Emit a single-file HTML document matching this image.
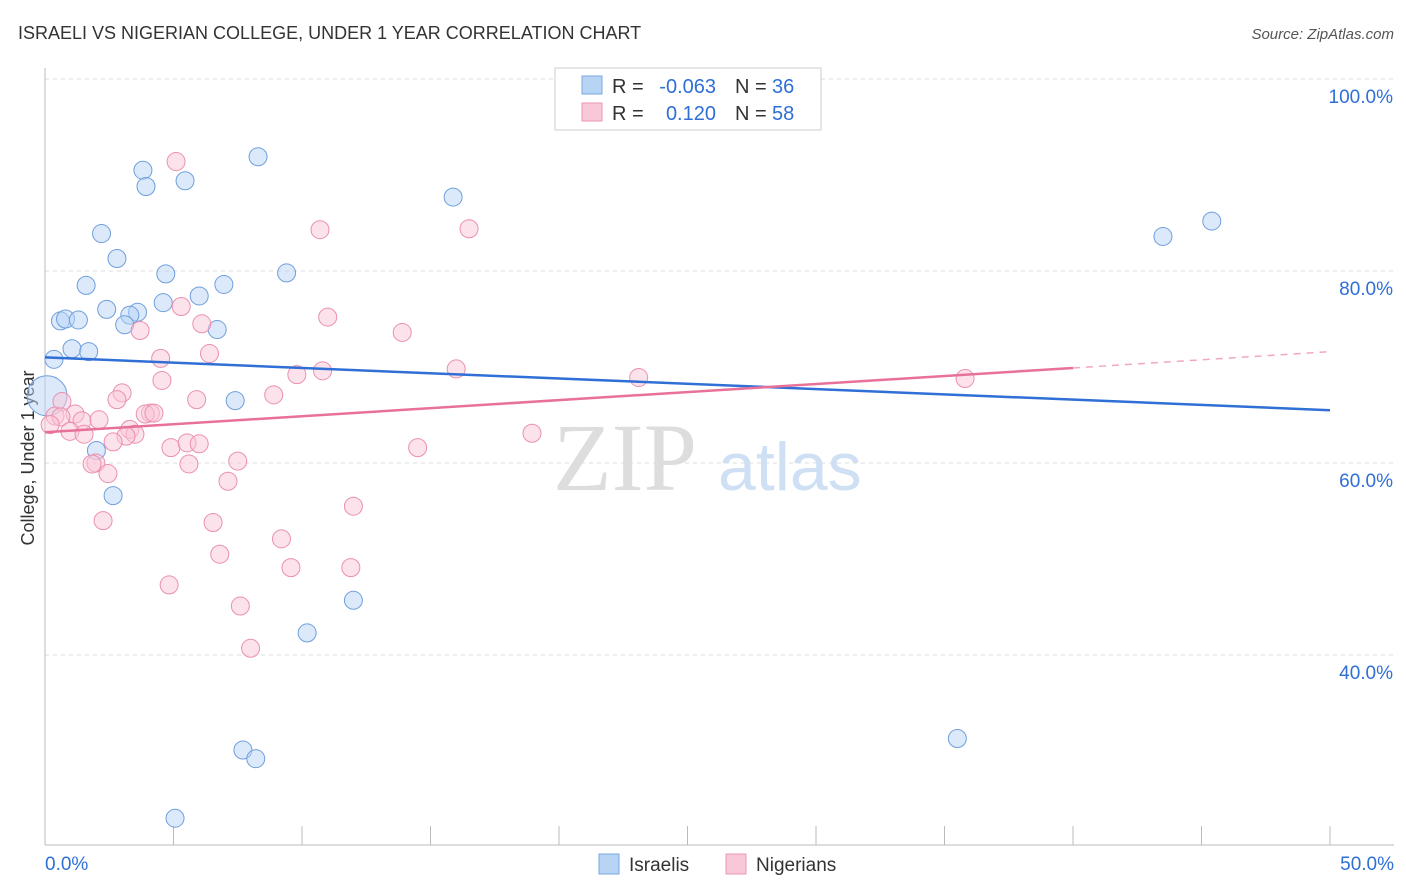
<!DOCTYPE html>
<html><head><meta charset="utf-8"><style>
body{margin:0;background:#fff;font-family:"Liberation Sans",sans-serif;}
svg{display:block}
</style></head><body>
<svg id="chart" width="1406" height="892">
<text x="18" y="39" font-size="18" fill="#333">ISRAELI VS NIGERIAN COLLEGE, UNDER 1 YEAR CORRELATION CHART</text>
<text x="1394" y="39" font-size="15" fill="#555" font-style="italic" text-anchor="end">Source: ZipAtlas.com</text>
<text x="34" y="458" font-size="18" fill="#333" text-anchor="middle" transform="rotate(-90 34 458)">College, Under 1 year</text>
<g id="grid"></g>
<text x="553" y="490" font-size="96" fill="#ddd" font-family="Liberation Serif,serif">ZIP</text>
<text x="718" y="490" font-size="68" fill="#cfe0f5">atlas</text>
<g id="marks"></g>
<g>
<rect x="555" y="68" width="266" height="62" fill="#fff" stroke="#ccc"/>
<rect x="582" y="76" width="20" height="18" fill="#b8d4f5" stroke="#7aa8e0"/>
<rect x="582" y="103" width="20" height="18" fill="#f9c8d8" stroke="#eb96b4"/>
<text x="612" y="93" font-size="20" fill="#333">R =</text>
<text x="716" y="93" font-size="20" fill="#2f6fd6" text-anchor="end">-0.063</text>
<text x="735" y="93" font-size="20" fill="#333">N =</text>
<text x="772" y="93" font-size="20" fill="#2f6fd6">36</text>
<text x="612" y="120" font-size="20" fill="#333">R =</text>
<text x="716" y="120" font-size="20" fill="#2f6fd6" text-anchor="end">0.120</text>
<text x="735" y="120" font-size="20" fill="#333">N =</text>
<text x="772" y="120" font-size="20" fill="#2f6fd6">58</text>
</g>
<g>
<rect x="599" y="854" width="20" height="20" fill="#b8d4f5" stroke="#7aa8e0"/>
<text x="629" y="871" font-size="19" fill="#333">Israelis</text>
<rect x="726" y="854" width="20" height="20" fill="#f9c8d8" stroke="#eb96b4"/>
<text x="756" y="871" font-size="19" fill="#333">Nigerians</text>
</g>
</svg>
<script>
const blueX=[8.29,3.81,3.93,5.45,15.88,2.2,2.8,4.7,9.4,1.6,6.96,6.0,4.6,2.4,3.6,3.3,0.6,0.8,1.3,3.1,6.7,1.05,1.7,0.35,7.4,2.0,2.65,12.0,10.2,7.7,8.2,5.06,35.5,43.5,45.4,0.08];
const blueY=[91.9,90.5,88.8,89.4,87.7,83.9,81.3,79.7,79.8,78.5,78.6,77.4,76.7,76.0,75.7,75.4,74.8,75.0,74.9,74.4,73.9,71.9,71.6,70.8,66.5,61.3,56.6,45.7,42.3,30.1,29.2,23.0,31.3,83.6,85.2,67.0];
const pinkX=[5.1,10.7,16.5,5.3,11.0,6.1,3.7,13.9,6.4,4.5,16.0,10.8,9.8,23.1,35.8,4.55,3.0,8.9,2.8,5.9,0.66,4.1,3.9,4.24,1.17,0.39,0.62,1.44,2.1,3.3,3.5,0.97,1.52,3.15,2.65,14.5,18.95,4.9,5.53,6.0,7.5,1.98,1.83,5.6,2.45,7.12,12.0,2.26,6.54,9.2,6.8,9.57,11.9,4.83,7.6,8.0,0.2];
const pinkY=[91.4,84.3,84.4,76.3,75.2,74.5,73.8,73.6,71.4,70.9,69.8,69.6,69.2,68.9,68.8,68.6,67.3,67.1,66.6,66.6,66.4,65.2,65.1,65.2,65.1,64.9,64.8,64.4,64.5,63.5,63.0,63.3,63.0,62.8,62.2,61.6,63.1,61.6,62.1,62.0,60.2,60.0,59.9,59.9,58.9,58.1,55.5,54.0,53.8,52.1,50.5,49.1,49.1,47.3,45.1,40.7,64.0];
const blueLine=[71.0,65.5];
const pinkLine=[63.2,69.9,71.6];
const yTicks=[100,80,60,40];
const X0=45,X1=1330,Y100=79,PX=9.6;
const xs=v=>X0+(v/50)*(X1-X0), ys=v=>Y100+(100-v)*PX;
const NS="http://www.w3.org/2000/svg";
const g=document.getElementById('grid'), m=document.getElementById('marks');
function el(t,a,p){const e=document.createElementNS(NS,t);for(const k in a)e.setAttribute(k,a[k]);p.appendChild(e);return e;}
yTicks.forEach(t=>{
 const l=el('line',{x1:X0,x2:1394,y1:ys(t),y2:ys(t),stroke:'#ddd','stroke-dasharray':'4,4'},g);
 
 
 const tx=el('text',{x:1393,y:ys(t)+24,'font-size':19,fill:'#2f6fd6','text-anchor':'end'},g);
 tx.textContent=t.toFixed(1)+'%';
 
 
});
const ax=el('line',{x1:X0,x2:X0,y1:68,y2:845,stroke:'#bbb'},g);


const bx=el('line',{x1:X0,x2:1394,y1:845,y2:845,stroke:'#bbb'},g);


for(let i=0;i<=10;i++){const t=el('line',{x1:xs(i*5),x2:xs(i*5),y1:826,y2:845,stroke:'#bbb'},g);
 
 }
[['0.0%',X0,'start'],['50.0%',1394,'end']].forEach(([s,x,a])=>{const t=el('text',{x:x,y:870,'font-size':19,fill:'#2f6fd6','text-anchor':a},g);t.textContent=s;
 
 });
function dots(X,Y,fill,stroke,name){X.forEach((x,i)=>{const big=(x<0.3&&name==='israeli-point');
 const c=el('circle',{cx:xs(x),cy:ys(Y[i]),r:big?20:9,fill:fill,'fill-opacity':0.5,stroke:stroke,'stroke-width':1},m);
 
 });}
dots(blueX,blueY,'#b8d4f5','#6f9fdc','israeli-point');
dots(pinkX,pinkY,'#f9c8d8','#eb8fb0','nigerian-point');
const bl=el('line',{x1:xs(0),y1:ys(blueLine[0]),x2:xs(50),y2:ys(blueLine[1]),stroke:'#2f6fd6','stroke-width':2.5},m);


const pl=el('line',{x1:xs(0),y1:ys(pinkLine[0]),x2:xs(40),y2:ys(pinkLine[1]),stroke:'#e8719a','stroke-width':2.5},m);


const pd=el('line',{x1:xs(40),y1:ys(pinkLine[1]),x2:xs(50),y2:ys(pinkLine[2]),stroke:'#f0a8c0','stroke-width':1.5,'stroke-dasharray':'7,6'},m);


</script>
</body></html>
